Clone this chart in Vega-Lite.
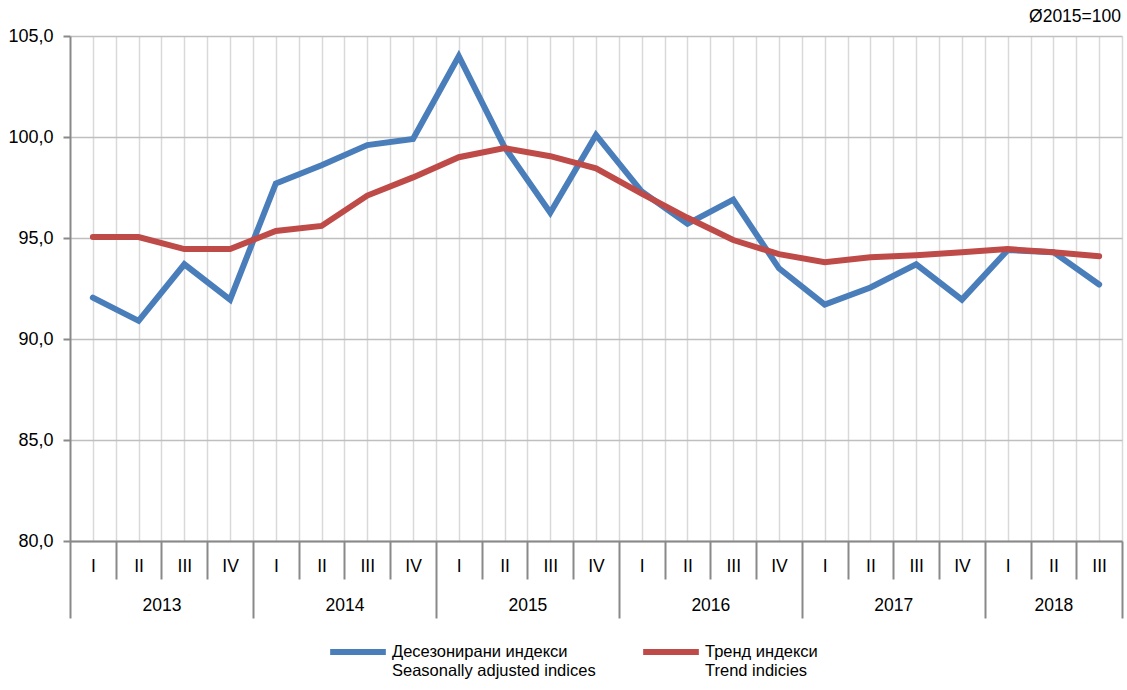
{
  "$schema": "https://vega.github.io/schema/vega-lite/v6.json",
  "width": 1052,
  "height": 505,
  "autosize": {"type": "none"},
  "padding": {"left": 70, "top": 36, "right": 5, "bottom": 149},
  "background": "white",
  "config": {
    "font": "Liberation Sans",
    "view": {"stroke": null},
    "axis": {"labelFont": "Liberation Sans", "labelColor": "#000000", "labelFontSize": 17.5}
  },
  "title": {
    "text": "Ø2015=100",
    "anchor": "end",
    "fontSize": 17.5,
    "fontWeight": "normal",
    "font": "Liberation Sans",
    "color": "#000000",
    "offset": 2,
    "dx": -2
  },
  "datasets": {
    "main": [
      {"i": 0, "year": 2013, "quarter": "I", "series": "sa", "value": 92.05},
      {"i": 1, "year": 2013, "quarter": "II", "series": "sa", "value": 90.9},
      {"i": 2, "year": 2013, "quarter": "III", "series": "sa", "value": 93.7},
      {"i": 3, "year": 2013, "quarter": "IV", "series": "sa", "value": 91.95},
      {"i": 4, "year": 2014, "quarter": "I", "series": "sa", "value": 97.7},
      {"i": 5, "year": 2014, "quarter": "II", "series": "sa", "value": 98.6},
      {"i": 6, "year": 2014, "quarter": "III", "series": "sa", "value": 99.6},
      {"i": 7, "year": 2014, "quarter": "IV", "series": "sa", "value": 99.9},
      {"i": 8, "year": 2015, "quarter": "I", "series": "sa", "value": 104.0},
      {"i": 9, "year": 2015, "quarter": "II", "series": "sa", "value": 99.5},
      {"i": 10, "year": 2015, "quarter": "III", "series": "sa", "value": 96.25},
      {"i": 11, "year": 2015, "quarter": "IV", "series": "sa", "value": 100.1},
      {"i": 12, "year": 2016, "quarter": "I", "series": "sa", "value": 97.3},
      {"i": 13, "year": 2016, "quarter": "II", "series": "sa", "value": 95.7},
      {"i": 14, "year": 2016, "quarter": "III", "series": "sa", "value": 96.9},
      {"i": 15, "year": 2016, "quarter": "IV", "series": "sa", "value": 93.5},
      {"i": 16, "year": 2017, "quarter": "I", "series": "sa", "value": 91.7},
      {"i": 17, "year": 2017, "quarter": "II", "series": "sa", "value": 92.55},
      {"i": 18, "year": 2017, "quarter": "III", "series": "sa", "value": 93.7},
      {"i": 19, "year": 2017, "quarter": "IV", "series": "sa", "value": 91.95},
      {"i": 20, "year": 2018, "quarter": "I", "series": "sa", "value": 94.4},
      {"i": 21, "year": 2018, "quarter": "II", "series": "sa", "value": 94.3},
      {"i": 22, "year": 2018, "quarter": "III", "series": "sa", "value": 92.7},
      {"i": 0, "year": 2013, "quarter": "I", "series": "trend", "value": 95.05},
      {"i": 1, "year": 2013, "quarter": "II", "series": "trend", "value": 95.05},
      {"i": 2, "year": 2013, "quarter": "III", "series": "trend", "value": 94.45},
      {"i": 3, "year": 2013, "quarter": "IV", "series": "trend", "value": 94.45},
      {"i": 4, "year": 2014, "quarter": "I", "series": "trend", "value": 95.35},
      {"i": 5, "year": 2014, "quarter": "II", "series": "trend", "value": 95.6},
      {"i": 6, "year": 2014, "quarter": "III", "series": "trend", "value": 97.1},
      {"i": 7, "year": 2014, "quarter": "IV", "series": "trend", "value": 98.0},
      {"i": 8, "year": 2015, "quarter": "I", "series": "trend", "value": 99.0},
      {"i": 9, "year": 2015, "quarter": "II", "series": "trend", "value": 99.45},
      {"i": 10, "year": 2015, "quarter": "III", "series": "trend", "value": 99.05},
      {"i": 11, "year": 2015, "quarter": "IV", "series": "trend", "value": 98.45},
      {"i": 12, "year": 2016, "quarter": "I", "series": "trend", "value": 97.2},
      {"i": 13, "year": 2016, "quarter": "II", "series": "trend", "value": 96.0},
      {"i": 14, "year": 2016, "quarter": "III", "series": "trend", "value": 94.9},
      {"i": 15, "year": 2016, "quarter": "IV", "series": "trend", "value": 94.2},
      {"i": 16, "year": 2017, "quarter": "I", "series": "trend", "value": 93.8},
      {"i": 17, "year": 2017, "quarter": "II", "series": "trend", "value": 94.05},
      {"i": 18, "year": 2017, "quarter": "III", "series": "trend", "value": 94.15},
      {"i": 19, "year": 2017, "quarter": "IV", "series": "trend", "value": 94.3},
      {"i": 20, "year": 2018, "quarter": "I", "series": "trend", "value": 94.45},
      {"i": 21, "year": 2018, "quarter": "II", "series": "trend", "value": 94.3},
      {"i": 22, "year": 2018, "quarter": "III", "series": "trend", "value": 94.1}
    ]
  },
  "data": {"name": "main"},
  "encoding": {
    "y": {
      "field": "value",
      "type": "quantitative",
      "scale": {"domain": [80, 105], "nice": false, "zero": false},
      "axis": {
        "title": null,
        "values": [80, 85, 90, 95, 100, 105],
        "labelExpr": "replace(format(datum.value, '.1f'), '.', ',')",
        "labelFontSize": 18,
        "labelPadding": 10,
        "tickSize": 7,
        "tickColor": "#898989",
        "tickWidth": 2,
        "domainColor": "#898989",
        "domainWidth": 2,
        "grid": true,
        "gridColor": "#bfbfbf",
        "gridWidth": 1.5
      }
    }
  },
  "layer": [
    {
      "mark": {"type": "line", "strokeWidth": 6, "strokeCap": "round", "strokeJoin": "miter"},
      "encoding": {
        "x": {
          "field": "i",
          "type": "quantitative",
          "scale": {"domain": [-0.5, 22.5], "nice": false, "zero": false},
          "axis": {
            "orient": "bottom",
            "title": null,
            "values": [0, 0.5, 1, 1.5, 2, 2.5, 3, 3.5, 4, 4.5, 5, 5.5, 6, 6.5, 7, 7.5, 8, 8.5, 9, 9.5, 10, 10.5, 11, 11.5, 12, 12.5, 13, 13.5, 14, 14.5, 15, 15.5, 16, 16.5, 17, 17.5, 18, 18.5, 19, 19.5, 20, 20.5, 21, 21.5, 22, 22.5],
            "grid": true,
            "gridColor": "#d9d9d9",
            "gridWidth": 1.5,
            "ticks": false,
            "domain": true,
            "domainColor": "#898989",
            "domainWidth": 2,
            "labelExpr": "datum.value % 1 == 0 ? ['I','II','III','IV'][datum.value % 4] : ''",
            "labelBaseline": "middle",
            "labelPadding": 25,
            "labelFlush": false,
            "labelOverlap": false,
            "labelBound": false
          }
        },
        "color": {
          "field": "series",
          "type": "nominal",
          "scale": {"domain": ["sa", "trend"], "range": ["#4a7ebb", "#be4b48"]},
          "legend": {
            "orient": "none",
            "direction": "horizontal",
            "legendX": 257,
            "legendY": 585,
            "title": null,
            "symbolType": "stroke",
            "symbolSize": 3100,
            "symbolStrokeWidth": 6,
            "labelExpr": "datum.value == 'sa' ? ['Десезонирани индекси', 'Seasonally adjusted indices'] : ['Тренд индекси', 'Trend indicies']",
            "labelFont": "Liberation Sans",
            "labelFontSize": 16.5,
            "labelColor": "#000000",
            "labelOffset": 3,
            "labelLimit": 400,
            "columnPadding": 35
          }
        }
      }
    },
    {
      "mark": {"type": "point", "opacity": 0},
      "encoding": {
        "x": {
          "field": "i",
          "type": "quantitative",
          "scale": {"domain": [-0.5, 22.5], "nice": false, "zero": false},
          "axis": {
            "orient": "bottom",
            "title": null,
            "values": [-0.5, 0.5, 1.5, 2.5, 3.5, 4.5, 5.5, 6.5, 7.5, 8.5, 9.5, 10.5, 11.5, 12.5, 13.5, 14.5, 15.5, 16.5, 17.5, 18.5, 19.5, 20.5, 21.5, 22.5],
            "grid": false,
            "domain": false,
            "labels": false,
            "ticks": true,
            "tickColor": "#898989",
            "tickWidth": 2,
            "tickSize": {"condition": {"test": "(datum.value + 0.5) % 4 == 0 || datum.value == 22.5", "value": 77}, "value": 38}
          }
        }
      }
    },
    {
      "mark": {"type": "point", "opacity": 0},
      "encoding": {
        "x": {
          "field": "i",
          "type": "quantitative",
          "scale": {"domain": [-0.5, 22.5], "nice": false, "zero": false},
          "axis": {
            "orient": "bottom",
            "title": null,
            "values": [1.5, 5.5, 9.5, 13.5, 17.5, 21],
            "grid": false,
            "domain": false,
            "ticks": false,
            "labelExpr": "'' + (2013 + floor(datum.value / 4))",
            "labelBaseline": "middle",
            "labelPadding": 64,
            "labelFlush": false,
            "labelOverlap": false,
            "labelBound": false
          }
        }
      }
    }
  ],
  "resolve": {"scale": {"x": "shared"}, "axis": {"x": "independent"}}
}
